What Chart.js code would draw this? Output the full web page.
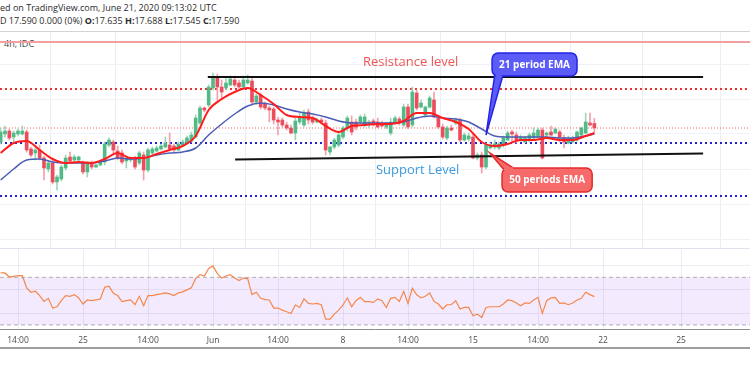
<!DOCTYPE html>
<html><head><meta charset="utf-8">
<script src="https://cdn.jsdelivr.net/npm/chart.js@4.4.1/dist/chart.umd.min.js"></script>
<style>
html,body{margin:0;padding:0;background:#fff;width:750px;height:375px;overflow:hidden;position:relative;font-family:"Open Sans",sans-serif;}
#h1{position:absolute;left:0;top:1px;font-size:9px;color:#2a2a2a;white-space:nowrap;}
#h2{position:absolute;left:0;top:14px;font-size:9px;color:#2a2a2a;white-space:nowrap;}
#sep{position:absolute;left:0;top:31px;width:750px;height:1px;background:#d4d4d4;}
#tf{position:absolute;left:4px;top:37px;font-size:9px;color:#444;}
#main{position:absolute;left:0;top:32px;}
#sep2{position:absolute;left:0;top:248px;width:750px;height:1px;background:#e0e3eb;}
#rsi{position:absolute;left:0;top:249px;}
#bottom{position:absolute;left:0;top:347px;width:750px;height:2px;background:#9e9e9e;}
</style></head>
<body>
<div id="h1">ed on TradingView.com, June 21, 2020 09:13:02 UTC</div>
<div id="h2">D 17.590 0.000 (0%) <b>O:</b>17.635 <b>H:</b>17.688 <b>L:</b>17.545 <b>C:</b>17.590</div>
<div id="sep"></div>
<div id="tf">4h, IDC</div>
<canvas id="main" width="750" height="216"></canvas>
<div id="sep2"></div>
<canvas id="rsi" width="750" height="99"></canvas>
<div id="bottom"></div>
<script>
// ---- DATA (4h candles, index 0 = May 25 00:00) ----
const FIRST = -19;
const open = [17.45,17.53,17.56,17.50,17.53,17.53,17.55,17.38,17.34,17.37,17.29,17.18,17.24,17.05,17.08,17.19,17.30,17.27,17.27,
 17.24,17.15,17.24,17.20,17.22,17.25,17.42,17.45,17.36,17.34,
 17.26,17.27,17.29,17.24,17.32,17.17,17.34,17.36,17.38,17.40,
 17.42,17.41,17.37,17.42,17.44,17.46,17.50,17.64,17.79,17.82,
 17.99,18.10,18.00,17.99,18.02,18.07,18.04,18.00,18.04,18.06,
 17.85,17.92,17.83,17.79,17.78,17.67,17.67,17.62,17.59,17.54,
 17.65,17.62,17.75,17.68,17.65,17.67,17.64,17.35,17.40,17.42,
 17.50,17.59,17.65,17.65,17.65,17.62,17.64,17.66,17.65,17.63,
 17.60,17.54,17.65,17.68,17.62,17.80,17.62,17.94,17.80,17.72,
 17.80,17.87,17.69,17.60,17.49,17.59,17.64,17.67,17.47,17.48,
 17.50,17.29,17.32,17.20,17.39,17.40,17.39,17.42,17.47,17.55,
 17.52,17.47,17.45,17.47,17.49,17.50,17.57,17.52,17.55,17.54,
 17.55,17.49,17.44,17.45,17.47,17.52,17.54,17.64,17.635];
const high = [17.59,17.61,17.58,17.56,17.58,17.61,17.57,17.40,17.39,17.42,17.31,17.26,17.27,17.12,17.22,17.32,17.35,17.32,17.31,
 17.26,17.25,17.26,17.23,17.27,17.45,17.49,17.47,17.41,17.37,
 17.31,17.30,17.31,17.36,17.35,17.39,17.40,17.41,17.43,17.50,
 17.54,17.43,17.45,17.47,17.51,17.55,17.72,17.81,17.80,18.02,
 18.14,18.13,18.07,18.09,18.11,18.11,18.07,18.11,18.12,18.10,
 17.93,17.94,17.85,17.81,17.80,17.70,17.69,17.65,17.62,17.69,
 17.74,17.77,17.78,17.71,17.69,17.69,17.67,17.41,17.49,17.54,
 17.61,17.71,17.71,17.68,17.72,17.73,17.67,17.68,17.69,17.66,
 17.65,17.69,17.71,17.70,17.83,17.83,18.00,17.97,17.87,17.81,
 17.91,17.95,17.72,17.63,17.61,17.62,17.69,17.69,17.54,17.54,
 17.53,17.34,17.35,17.44,17.44,17.47,17.45,17.51,17.56,17.57,
 17.55,17.52,17.51,17.54,17.59,17.59,17.59,17.55,17.61,17.59,
 17.57,17.52,17.51,17.51,17.56,17.60,17.74,17.74,17.688];
const low = [17.43,17.50,17.47,17.44,17.51,17.52,17.35,17.30,17.27,17.27,17.07,17.15,17.03,16.97,17.06,17.17,17.24,17.25,17.26,
 17.13,17.10,17.18,17.19,17.21,17.22,17.40,17.34,17.27,17.23,
 17.19,17.25,17.18,17.22,17.07,17.15,17.32,17.35,17.37,17.39,
 17.37,17.35,17.36,17.41,17.43,17.45,17.49,17.62,17.75,17.80,
 17.97,17.87,17.87,17.97,18.01,18.00,17.98,17.99,18.03,17.83,
 17.83,17.78,17.77,17.65,17.63,17.52,17.60,17.57,17.53,17.47,
 17.63,17.60,17.63,17.63,17.64,17.63,17.32,17.32,17.38,17.40,
 17.48,17.56,17.52,17.57,17.63,17.60,17.59,17.61,17.59,17.60,
 17.58,17.52,17.63,17.62,17.60,17.58,17.60,17.77,17.79,17.70,
 17.79,17.69,17.58,17.48,17.47,17.56,17.62,17.45,17.46,17.46,
 17.28,17.27,17.14,17.18,17.38,17.38,17.37,17.40,17.46,17.45,
 17.44,17.46,17.44,17.45,17.48,17.49,17.28,17.50,17.51,17.53,
 17.45,17.39,17.43,17.44,17.46,17.51,17.53,17.61,17.545];
const close = [17.55,17.56,17.49,17.54,17.56,17.56,17.37,17.32,17.37,17.29,17.19,17.24,17.05,17.10,17.20,17.29,17.26,17.30,17.30,
 17.15,17.23,17.20,17.22,17.25,17.43,17.47,17.37,17.29,17.25,
 17.29,17.29,17.20,17.34,17.17,17.37,17.38,17.39,17.41,17.44,
 17.38,17.37,17.43,17.45,17.49,17.52,17.69,17.79,17.77,18.00,
 18.10,18.00,17.95,18.04,18.08,18.02,18.00,18.07,18.07,17.85,
 17.91,17.80,17.79,17.77,17.67,17.65,17.62,17.59,17.54,17.66,
 17.70,17.74,17.67,17.65,17.67,17.65,17.37,17.40,17.47,17.52,
 17.59,17.69,17.55,17.60,17.70,17.70,17.65,17.63,17.60,17.61,
 17.63,17.65,17.69,17.64,17.80,17.60,17.95,17.79,17.84,17.80,
 17.89,17.70,17.60,17.50,17.59,17.57,17.67,17.47,17.52,17.51,
 17.29,17.32,17.20,17.42,17.42,17.43,17.43,17.49,17.54,17.53,
 17.47,17.50,17.49,17.52,17.54,17.57,17.29,17.54,17.52,17.58,
 17.50,17.45,17.49,17.49,17.55,17.59,17.65,17.62,17.59];
const emaX = [-19,-16,-13,-10,-7,-4,-1,2,5,8,11,14,17,20,23,26,29,32,35,38,41,44,47,50,53,56,59,62,65,68,71,74,77,80,83,86,89,92,95,98,101,104,107,110,113,116,118];
const emaRed = [17.34,17.44,17.46,17.37,17.28,17.24,17.25,17.24,17.28,17.34,17.29,17.29,17.33,17.37,17.41,17.51,17.77,17.88,17.95,17.99,17.92,17.83,17.72,17.70,17.69,17.61,17.55,17.61,17.62,17.63,17.63,17.66,17.74,17.74,17.69,17.65,17.58,17.45,17.41,17.43,17.47,17.47,17.49,17.47,17.47,17.51,17.54];
const emaBlue = [17.07,17.18,17.27,17.28,17.25,17.24,17.24,17.24,17.26,17.29,17.28,17.29,17.32,17.34,17.35,17.39,17.52,17.63,17.73,17.81,17.84,17.82,17.78,17.75,17.73,17.70,17.66,17.64,17.64,17.64,17.64,17.65,17.69,17.71,17.69,17.68,17.65,17.58,17.51,17.50,17.50,17.50,17.50,17.49,17.49,17.51,17.53];
const rsi = [73.7,73.7,70.3,70.9,71.4,71.4,61.2,57.5,58.3,54.7,
 49.8,52.4,44.2,45.3,50.4,54.7,54.1,55.5,52.7,47.6,
 51.0,50.4,51.0,51.9,61.7,62.6,56.6,54.7,49.6,50.4,
 51.0,47.0,54.1,46.2,54.7,54.7,55.5,56.1,57.0,56.1,
 54.7,57.0,57.8,59.5,61.2,68.9,72.3,71.1,77.4,79.6,
 73.1,69.4,71.1,72.3,69.4,67.4,69.4,68.9,55.5,57.5,
 52.4,51.3,51.0,44.2,44.2,42.5,41.1,39.6,46.8,44.7,
 51.9,48.1,47.6,48.1,47.0,34.9,34.9,39.1,42.5,46.8,
 52.7,45.3,50.4,53.2,49.6,49.6,49.0,
 51.9,50.4,44.7,52.4,53.2,49.8,58.3,48.1,60.9,55.3,
 52.7,54.1,57.0,49.8,47.6,43.4,47.0,47.0,50.4,43.4,
 44.7,44.7,37.7,39.1,36.2,44.7,45.3,45.3,45.3,47.6,
 51.0,50.4,48.5,46.2,48.5,48.1,51.0,53.2,39.6,50.4,
 52.7,53.2,48.1,48.5,47.0,48.5,51.0,52.4,57.5,55.5,53.8];
// time axis
const tickPos = [-15,0,15,30,45,60,75,90,105,120,138];
const tickLabels = ['14:00','25','14:00','Jun','14:00','8','14:00','15','14:00','22','25'];
// horizontal levels
const priceGrid = [16.48,16.83,17.18,17.53,17.88,18.23];
const levelSolidRed = 18.45, levelDotRed = 17.98, lastPrice = 17.59;
const levelsDotBlue = [17.44,16.91];
const resistanceX = [28.8,143.1], resistanceY = [18.10,18.10];
const supportX = [35.1,143.1], supportY = [17.275,17.335];
const rsiBands = [70,30], rsiGrid = [40,60,80];

// ---- view ----
const X_MIN = -19.154, X_MAX = 153.92;
const Y_MIN = 16.39, Y_MAX = 18.55;
const UP = '#53b987', DN = '#eb4d5c', UPW = '#9fd6b9', DNW = '#f3a0a8';
Chart.defaults.font.family = '"Open Sans", sans-serif';
const idx = open.map((_, k) => FIRST + k);
const isUp = idx.map((_, k) => close[k] >= open[k]);
const hLine = (v) => [{x: X_MIN, y: v}, {x: X_MAX, y: v}];
const pts = (xs, ys) => xs.map((x, k) => ({x, y: ys[k]}));

const annot = {
  id: 'annot',
  afterDatasetsDraw(chart) {
    const {ctx, scales: {x, y}} = chart;
    const X = v => x.getPixelForValue(v), Y = v => y.getPixelForValue(v);
    ctx.save();
    ctx.font = '13px "Open Sans", sans-serif';
    ctx.textBaseline = 'middle';
    ctx.fillStyle = '#f05454';
    ctx.fillText('Resistance level', X(64.6), Y(18.25));
    ctx.fillStyle = '#3c9be0';
    ctx.fillText('Support Level', X(67.6), Y(17.17));
    function callout(txt, fill, stroke, box, base, tip) {
      ctx.lineWidth = 1.5;
      ctx.fillStyle = fill; ctx.strokeStyle = stroke;
      ctx.beginPath();
      ctx.moveTo(X(base[0]), Y(base[2]));
      ctx.lineTo(X(tip[0]), Y(tip[1]));
      ctx.lineTo(X(base[1]), Y(base[2]));
      ctx.closePath(); ctx.fill(); ctx.stroke();
      const bx = X(box[0]), by = Y(box[2]), bw = X(box[1]) - bx, bh = Y(box[3]) - by;
      ctx.beginPath(); ctx.roundRect(bx, by, bw, bh, 6); ctx.fill(); ctx.stroke();
      ctx.beginPath();
      ctx.moveTo(X(base[0]) + 1, Y(base[2]));
      ctx.lineTo(X(base[1]) - 1, Y(base[2]));
      ctx.lineWidth = 3; ctx.strokeStyle = fill; ctx.stroke();
      ctx.fillStyle = '#fff';
      ctx.font = 'bold 10px "Open Sans", sans-serif';
      ctx.textAlign = 'center';
      ctx.fillText(txt, bx + bw / 2, by + bh / 2 + 0.5);
      ctx.textAlign = 'left';
    }
    callout('21 period EMA', '#5b5bf7', '#2424e6', [94.4, 114, 18.34, 18.11], [95.0, 96.9, 18.115], [93.0, 17.52]);
    callout('50 periods EMA', '#f66a6a', '#e32b2b', [96.7, 117.5, 17.19, 16.95], [96.9, 99.5, 17.185], [93.9, 17.34]);
    ctx.restore();
  }
};

new Chart(document.getElementById('main'), {
  type: 'bar',
  data: {datasets: [
    {type: 'line', data: hLine(levelSolidRed), borderColor: '#f4a0a0', borderWidth: 2, pointRadius: 0, order: 20},
    {type: 'line', data: hLine(levelDotRed), borderColor: '#f03030', borderWidth: 2, borderDash: [2, 3], pointRadius: 0, order: 20},
    {type: 'line', data: hLine(lastPrice), borderColor: '#f06060', borderWidth: 1, borderDash: [1, 2], pointRadius: 0, order: 20},
    ...levelsDotBlue.map(v => ({type: 'line', data: hLine(v), borderColor: '#2020d0', borderWidth: 2, borderDash: [2, 3], pointRadius: 0, order: 20})),
    {type: 'bar', data: idx.map((x, k) => ({x, y: [low[k], high[k]]})), backgroundColor: isUp.map(u => u ? UPW : DNW), barThickness: 1, grouped: false, order: 10},
    {type: 'bar', data: idx.map((x, k) => ({x, y: [open[k], close[k]]})), backgroundColor: isUp.map(u => u ? UP : DN), barThickness: 3, minBarLength: 1, grouped: false, order: 9},
    {type: 'line', data: pts(emaX, emaBlue), borderColor: '#4b5db5', borderWidth: 1.5, pointRadius: 0, cubicInterpolationMode: 'monotone', order: 5},
    {type: 'line', data: pts(emaX, emaRed), borderColor: '#ff1c1c', borderWidth: 2, pointRadius: 0, cubicInterpolationMode: 'monotone', order: 4},
    {type: 'line', data: pts(resistanceX, resistanceY), borderColor: '#111', borderWidth: 2, pointRadius: 0, order: 1},
    {type: 'line', data: pts(supportX, supportY), borderColor: '#111', borderWidth: 2, pointRadius: 0, order: 1}
  ]},
  options: {
    responsive: false, animation: false, events: [],
    layout: {padding: 0},
    plugins: {legend: {display: false}, tooltip: {enabled: false}},
    scales: {
      x: {type: 'linear', min: X_MIN, max: X_MAX, offset: false,
          ticks: {display: false}, grid: {color: '#e9eef5', drawTicks: false}, border: {display: false},
          afterBuildTicks: s => { s.ticks = tickPos.map(v => ({value: v})); }},
      y: {min: Y_MIN, max: Y_MAX, ticks: {display: false}, grid: {color: '#eef1f6', drawTicks: false}, border: {display: false},
          afterBuildTicks: s => { s.ticks = priceGrid.map(v => ({value: v})); }}
    }
  },
  plugins: [annot]
});

new Chart(document.getElementById('rsi'), {
  type: 'line',
  data: {datasets: [
    {data: rsi.map((v, k) => ({x: FIRST + k, y: v})), borderColor: '#f5874d', borderWidth: 1.2, pointRadius: 0, tension: 0, order: 1},
    {data: hLine(rsiBands[0]), borderColor: '#b0b0b0', borderWidth: 1, borderDash: [4, 3], pointRadius: 0, fill: '+1', backgroundColor: 'rgba(150,70,235,0.11)', order: 3},
    {data: hLine(rsiBands[1]), borderColor: '#b0b0b0', borderWidth: 1, borderDash: [4, 3], pointRadius: 0, fill: false, order: 3}
  ]},
  options: {
    responsive: false, animation: false, events: [],
    layout: {padding: 0},
    plugins: {legend: {display: false}, tooltip: {enabled: false}},
    scales: {
      x: {type: 'linear', min: X_MIN, max: X_MAX, offset: false,
          grid: {color: '#e9eef5', drawTicks: false},
          border: {display: true, color: '#8c8c8c', width: 1},
          ticks: {autoSkip: false, maxRotation: 0, padding: 6, color: '#4d4d4d', font: {size: 8.5},
                  callback: v => { const k = tickPos.indexOf(v); return k < 0 ? '' : tickLabels[k]; }},
          afterBuildTicks: s => { s.ticks = tickPos.map(v => ({value: v})); },
          afterFit: s => { s.height = 19; }},
      y: {min: 26.6, max: 93.83, ticks: {display: false}, grid: {color: 'rgba(120,110,160,0.13)', drawTicks: false}, border: {display: false},
          afterBuildTicks: s => { s.ticks = rsiGrid.map(v => ({value: v})); }}
    }
  }
});
</script>
</body></html>
